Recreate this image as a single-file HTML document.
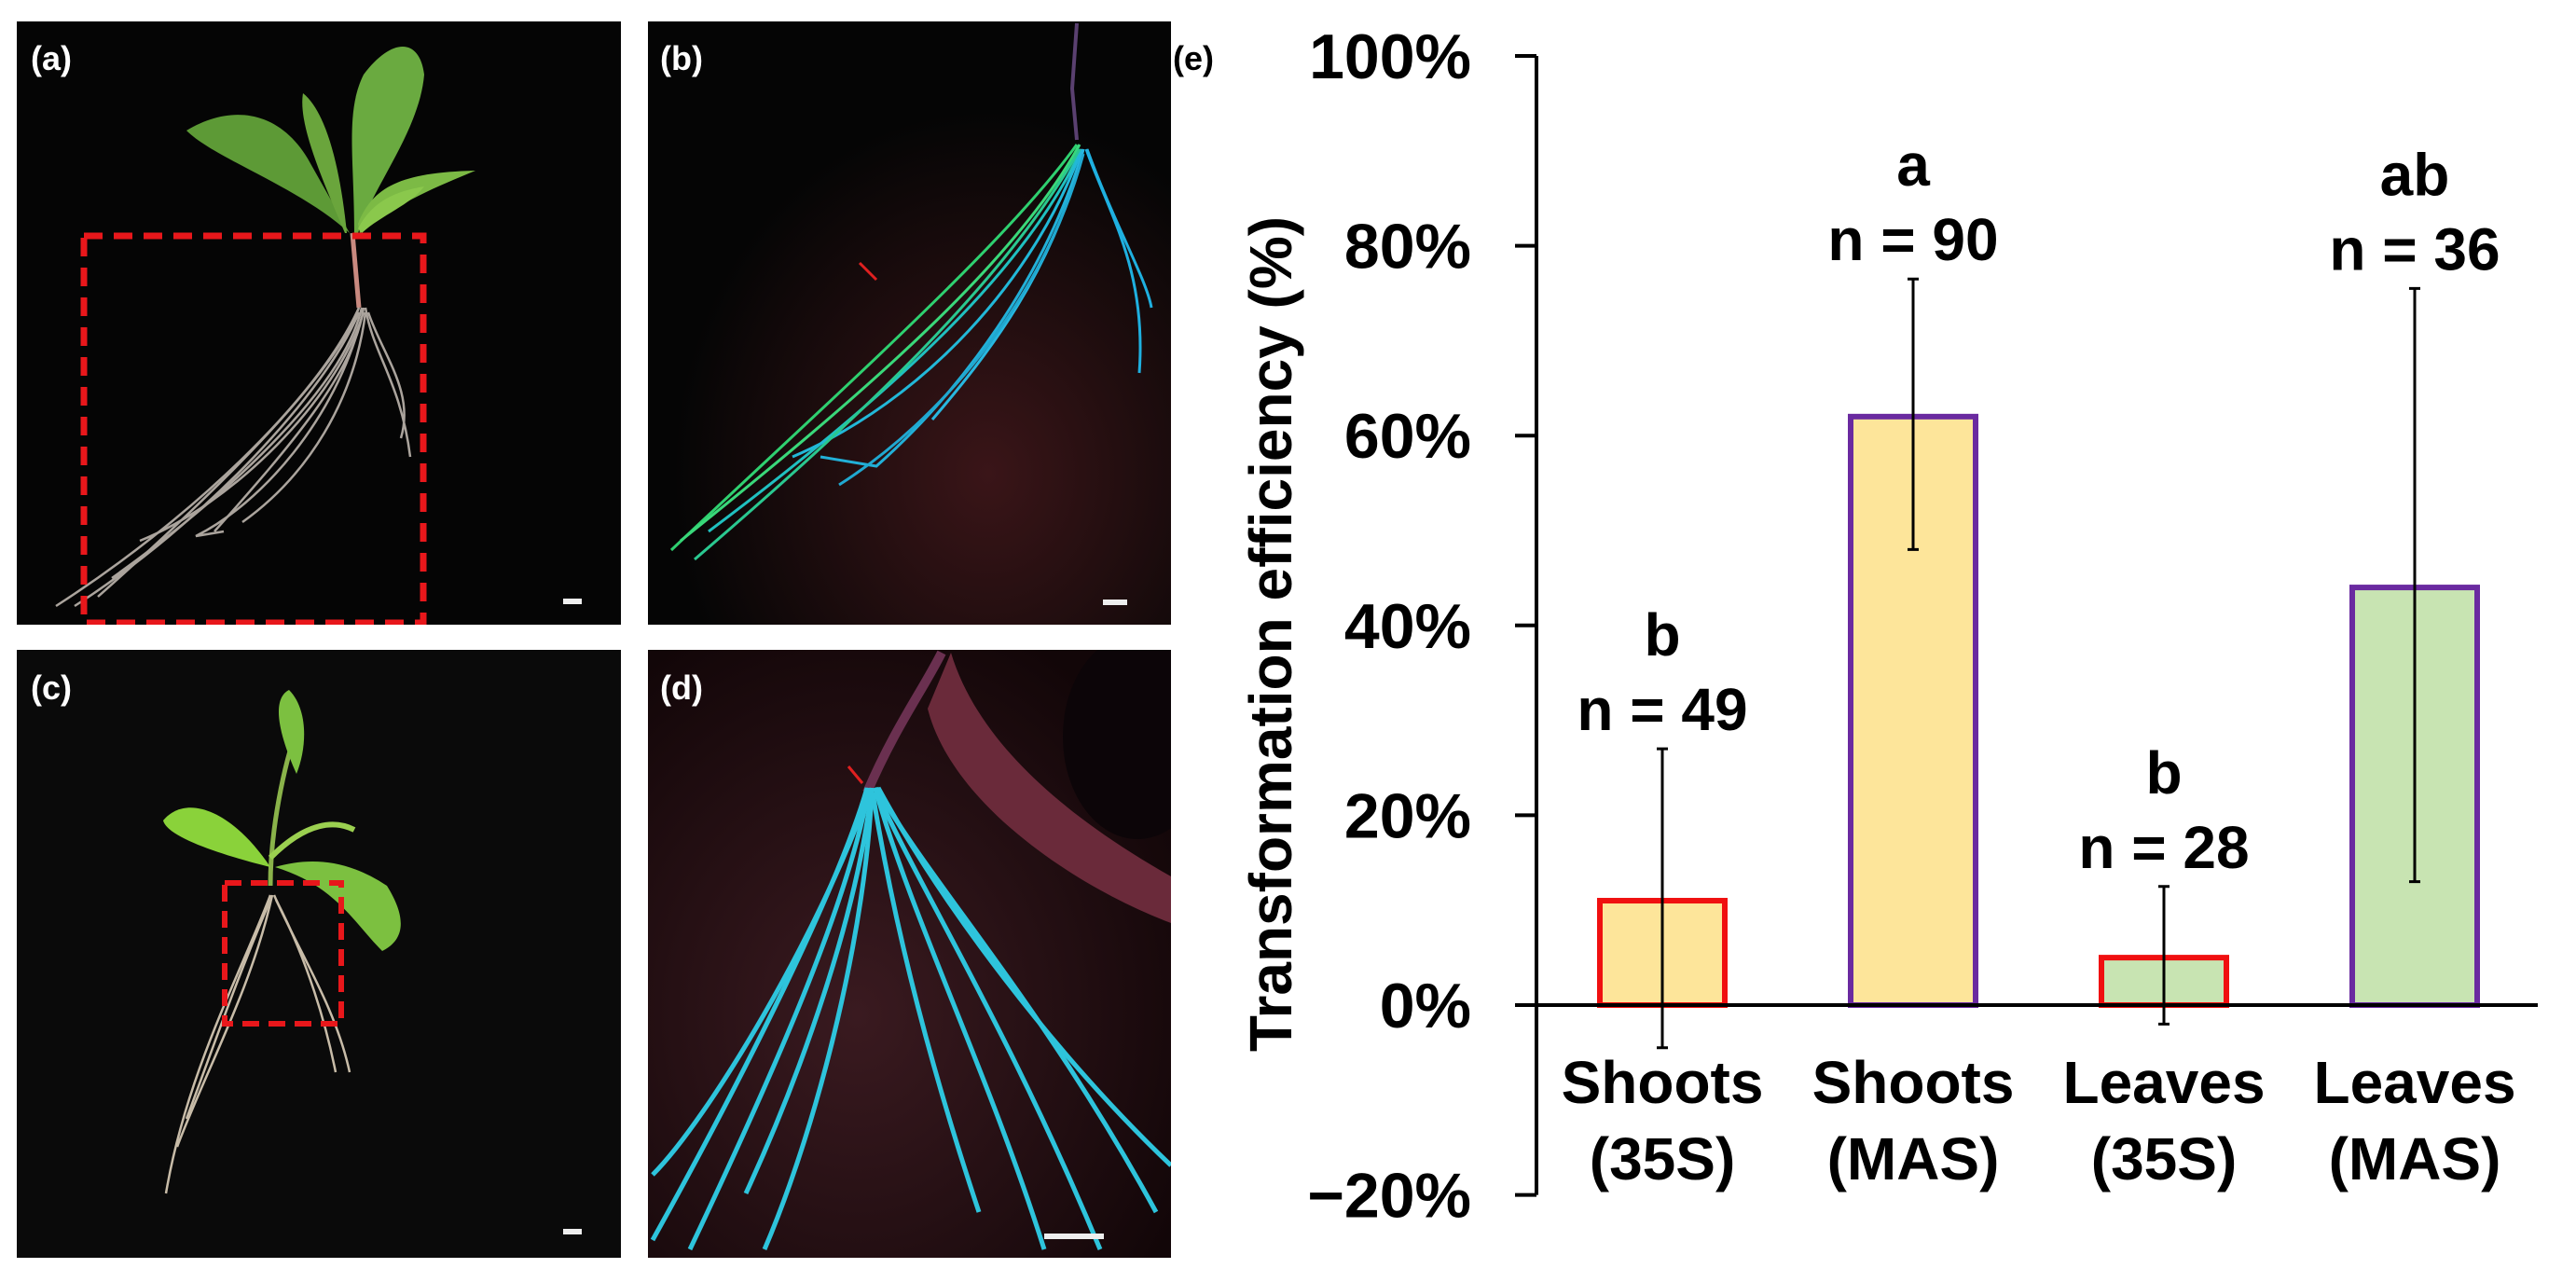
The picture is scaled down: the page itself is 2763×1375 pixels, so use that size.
<!DOCTYPE html>
<html><head><meta charset="utf-8"><style>
html,body{margin:0;padding:0;background:#fff;}
svg{display:block;font-family:"Liberation Sans",Arial,sans-serif;}
</style></head><body>
<svg id="fig" width="2763" height="1375" viewBox="0 0 2763 1375">
<defs>
<radialGradient id="redglow" cx="0.65" cy="0.75" r="0.6"><stop offset="0" stop-color="#3a1518"/><stop offset="1" stop-color="#050505"/></radialGradient>
<radialGradient id="redglow2" cx="0.4" cy="0.6" r="0.7"><stop offset="0" stop-color="#3a1a20"/><stop offset="1" stop-color="#120608"/></radialGradient>
<clipPath id="clipA"><rect x="18" y="23" width="648" height="647"/></clipPath>
<clipPath id="clipB"><rect x="695" y="23" width="561" height="647"/></clipPath>
<clipPath id="clipC"><rect x="18" y="697" width="648" height="652"/></clipPath>
<clipPath id="clipD"><rect x="695" y="697" width="561" height="652"/></clipPath>
</defs>
<!-- Panel a -->
<g clip-path="url(#clipA)">
<rect x="18" y="23" width="648" height="647" fill="#050505"/>
<g>
<path d="M385,330 L378,250" stroke="#c98a80" stroke-width="5" fill="none"/>
<path d="M375,250 C320,200 230,170 200,140 C250,110 300,120 330,170 Z" fill="#5d9a36"/>
<path d="M370,250 C340,180 320,130 325,100 C350,120 365,180 372,250 Z" fill="#6aa53c"/>
<path d="M380,250 C380,170 370,120 390,80 C420,40 450,40 455,80 C450,140 400,200 384,250 Z" fill="#6aaa40"/>
<path d="M384,240 C400,200 430,185 510,183 C470,200 430,215 386,250 Z" fill="#7cba45"/>
<path d="M384,245 C400,215 425,205 455,200 C440,220 410,230 388,250 Z" fill="#8ac84c"/>
<g stroke="#bdb6ae" stroke-width="2.5" fill="none" opacity="0.9">
<path d="M385,330 C360,400 240,520 105,640"/>
<path d="M388,330 C370,410 260,520 120,620"/>
<path d="M385,335 C350,420 220,560 80,650"/>
<path d="M390,335 C360,430 250,540 150,580"/>
<path d="M390,330 C380,400 310,480 230,570"/>
<path d="M392,330 C400,380 430,410 440,490"/>
<path d="M395,335 C410,380 445,420 430,470"/>
<path d="M385,330 C340,430 200,560 60,650"/>
<path d="M388,340 C360,450 280,540 210,575 L240,570"/>
<path d="M392,335 C380,430 330,510 260,560"/>
</g></g>
<rect x="90" y="253" width="364" height="415" fill="none" stroke="#e8171b" stroke-width="7" stroke-dasharray="20,12"/>
<rect x="604" y="642" width="20" height="6" fill="#eee"/>
<text x="33" y="75" font-size="36" font-weight="bold" fill="#fff">(a)</text>
</g>
<!-- Panel b -->
<g clip-path="url(#clipB)">
<rect x="695" y="23" width="561" height="647" fill="url(#redglow)"/>
<path d="M1155,25 L1150,95 L1155,150" stroke="#5a4070" stroke-width="4" fill="none"/>
<g fill="none" stroke-width="3">
<path d="M1155,155 C1080,260 900,420 720,590" stroke="#2fd070"/>
<path d="M1158,155 C1090,280 930,420 730,580" stroke="#3ad87a"/>
<path d="M1160,160 C1100,290 960,420 760,570" stroke="#20c0c0"/>
<path d="M1160,160 C1110,300 990,430 850,490" stroke="#22b8d8"/>
<path d="M1162,160 C1120,300 1030,420 940,500 L880,490" stroke="#22b0d8"/>
<path d="M1162,160 C1130,290 1060,380 1000,450" stroke="#28b8e0"/>
<path d="M1165,160 C1190,230 1230,290 1222,400" stroke="#1fb0e0"/>
<path d="M1166,160 C1195,240 1230,300 1235,330" stroke="#1fb0e0"/>
<path d="M1158,160 C1080,300 920,450 745,600" stroke="#2ac890"/>
<path d="M1162,165 C1120,320 1010,450 900,520" stroke="#20a8d0"/>
</g>
<path d="M922,282 L940,300" stroke="#e02020" stroke-width="3"/>
<rect x="1183" y="643" width="26" height="6" fill="#eee"/>
<text x="708" y="75" font-size="36" font-weight="bold" fill="#fff">(b)</text>
</g>
<!-- Panel c -->
<g clip-path="url(#clipC)">
<rect x="18" y="697" width="648" height="652" fill="#0a0a0a"/>
<path d="M290,950 C290,880 310,800 320,780" stroke="#8ab34a" stroke-width="5" fill="none"/>
<path d="M318,830 C300,790 290,750 310,740 C330,760 330,800 318,830 Z" fill="#7cc040"/>
<path d="M290,930 C250,920 180,900 175,880 C200,850 250,870 290,930 Z" fill="#8ad23a"/>
<path d="M295,930 C330,920 370,920 415,950 C440,990 430,1010 410,1020 C380,990 360,950 295,930 Z" fill="#7cc040"/>
<path d="M290,920 C330,880 360,880 380,890" stroke="#9bd050" stroke-width="6" fill="none"/>
<g stroke="#c8bca8" stroke-width="2.5" fill="none">
<path d="M290,960 C260,1040 200,1150 178,1280"/>
<path d="M292,960 C270,1060 220,1150 190,1230"/>
<path d="M294,960 C320,1020 360,1080 375,1150"/>
<path d="M290,965 C250,1060 230,1120 200,1200"/>
<path d="M296,965 C330,1030 350,1100 360,1150"/>
</g>
<rect x="241" y="947" width="125" height="151" fill="none" stroke="#e8171b" stroke-width="6" stroke-dasharray="18,10"/>
<rect x="604" y="1318" width="20" height="6" fill="#eee"/>
<text x="33" y="750" font-size="36" font-weight="bold" fill="#fff">(c)</text>
</g>
<!-- Panel d -->
<g clip-path="url(#clipD)">
<rect x="695" y="697" width="561" height="652" fill="url(#redglow2)"/>
<path d="M1020,700 C1050,800 1150,880 1256,940 L1256,990 C1150,950 1020,860 995,760 Z" fill="#6a2a3a"/>
<ellipse cx="1220" cy="790" rx="80" ry="110" fill="#0c0508"/>
<path d="M930,850 C960,780 990,740 1010,700" stroke="#6a3050" stroke-width="10" fill="none"/>
<g fill="none" stroke="#2ec4dc" stroke-width="5">
<path d="M930,845 C900,950 800,1150 700,1330"/>
<path d="M932,845 C910,970 830,1150 740,1340"/>
<path d="M935,845 C920,980 860,1150 800,1280"/>
<path d="M935,845 C930,990 880,1200 820,1340"/>
<path d="M938,845 C990,960 1080,1100 1180,1340"/>
<path d="M940,845 C1000,950 1120,1080 1240,1300"/>
<path d="M942,845 C1010,970 1130,1130 1256,1250"/>
<path d="M940,850 C980,990 1060,1150 1120,1340"/>
<path d="M936,850 C960,1000 1000,1150 1050,1300"/>
<path d="M932,850 C880,1000 760,1200 700,1260"/>
</g>
<path d="M910,822 L925,840" stroke="#e02020" stroke-width="3"/>
<rect x="1120" y="1323" width="64" height="6" fill="#eee"/>
<text x="708" y="750" font-size="36" font-weight="bold" fill="#fff">(d)</text>
</g>
<text x="1258" y="75" font-size="36" font-weight="bold" fill="#000">(e)</text>
<g id="chart"></g>
</svg>
<script>
const categories = ["Shoots|(35S)", "Shoots|(MAS)", "Leaves|(35S)", "Leaves|(MAS)"];
const values = [11, 62, 5, 44];
const errLow = [-4.5, 48, -2, 13];
const errHigh = [27, 76.5, 12.5, 75.5];
const letters = ["b", "a", "b", "ab"];
const nLabels = ["n = 49", "n = 90", "n = 28", "n = 36"];
const fills = ["#fde59a", "#fde59a", "#c8e4b2", "#c8e4b2"];
const strokes = ["#f01010", "#6a2aa0", "#f01010", "#6a2aa0"];
const yTicks = [-20, 0, 20, 40, 60, 80, 100];

const NS = "http://www.w3.org/2000/svg";
const g = document.getElementById("chart");
const axisX = 1648, y0 = 1078, pxPer = 10.18;
const y = v => y0 - v * pxPer;
const x = i => 1783 + i * 269;
const bw = 134;
function mk(tag, attrs, parent) {
  const e = document.createElementNS(NS, tag);
  for (const k in attrs) e.setAttribute(k, attrs[k]);
  (parent || g).appendChild(e);
  return e;
}
const yAxis = mk("line", {x1: axisX, x2: axisX, y1: y(100), y2: y(-20), stroke: "#000", "stroke-width": 4});


yTicks.forEach(t => {
  const tk = mk("line", {x1: axisX - 23, x2: axisX, y1: y(t), y2: y(t), stroke: "#000", "stroke-width": 4});
  
  
  const lb = mk("text", {x: 1578, y: y(t) + 24, "text-anchor": "end", "font-size": 68, "font-weight": "bold"});
  lb.textContent = (t < 0 ? "\u2212" + (-t) : t) + "%";
  
  
});
const yt = mk("text", {x: 0, y: 0, transform: "translate(1385,680) rotate(-90)", "text-anchor": "middle", "font-size": 64, "font-weight": "bold"});
yt.textContent = "Transformation efficiency (%)";


categories.forEach((c, i) => {
  const cx = x(i);
  const b = mk("rect", {x: cx - bw / 2, y: y(Math.max(values[i], 0)), width: bw, height: Math.abs(y(values[i]) - y0), fill: fills[i], stroke: strokes[i], "stroke-width": 6});
  
  
  const eb = mk("path", {d: `M${cx},${y(errHigh[i])}V${y(errLow[i])}M${cx-6},${y(errHigh[i])}H${cx+6}M${cx-6},${y(errLow[i])}H${cx+6}`, stroke: "#000", "stroke-width": 3, fill: "none"});
  
  
  const top = y(errHigh[i]);
  const nl = mk("text", {x: cx, y: top - 20, "text-anchor": "middle", "font-size": 64, "font-weight": "bold"});
  nl.textContent = nLabels[i];
  
  
  const lt = mk("text", {x: cx, y: top - 100, "text-anchor": "middle", "font-size": 64, "font-weight": "bold"});
  lt.textContent = letters[i];
  
  
  const parts = c.split("|");
  const c1 = mk("text", {x: cx, y: 1183, "text-anchor": "middle", "font-size": 64, "font-weight": "bold"});
  c1.textContent = parts[0];
  
  
  const c2 = mk("text", {x: cx, y: 1265, "text-anchor": "middle", "font-size": 64, "font-weight": "bold"});
  c2.textContent = parts[1];
  
  
});
const xAxis = mk("line", {x1: axisX, x2: 2722, y1: y0, y2: y0, stroke: "#000", "stroke-width": 4});


</script>
</body></html>
